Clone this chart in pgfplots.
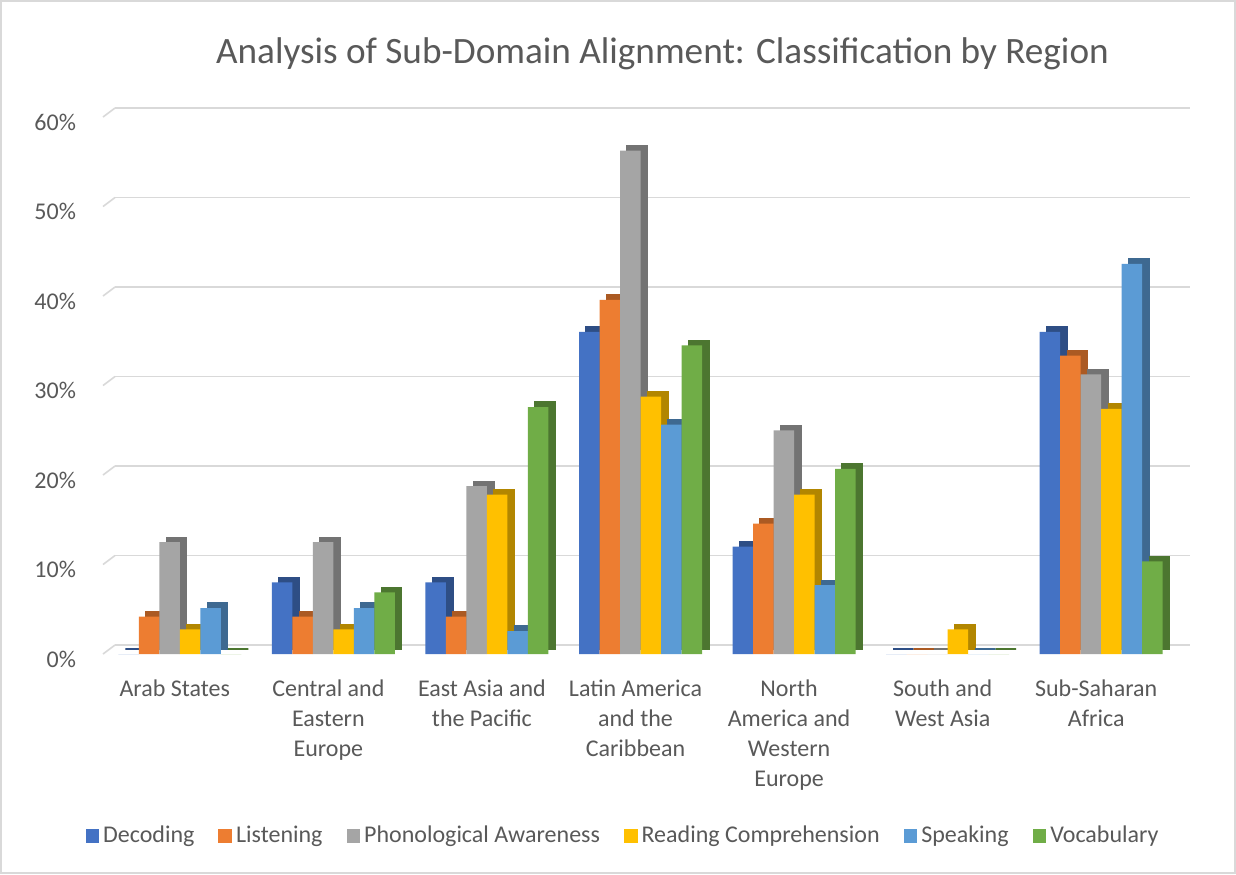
\documentclass[border=0pt]{standalone}
\usepackage{fontspec}
\setmainfont{Carlito}
\usepackage{pgfplots}
\usepackage{pgfplotstable}
\pgfplotsset{compat=1.18}
\definecolor{cDec}{HTML}{4472C4}
\definecolor{cLis}{HTML}{ED7D31}
\definecolor{cPho}{HTML}{A5A5A5}
\definecolor{cRea}{HTML}{FFC000}
\definecolor{cSpk}{HTML}{5B9BD5}
\definecolor{cVoc}{HTML}{70AD47}
\colorlet{cDecD}{cDec!68!black}
\colorlet{cLisD}{cLis!72!black}
\colorlet{cPhoD}{cPho!70!black}
\colorlet{cReaD}{cRea!70!black}
\colorlet{cSpkD}{cSpk!68!black}
\colorlet{cVocD}{cVoc!68!black}
\definecolor{txt}{HTML}{595959}
\definecolor{gridc}{HTML}{D9D9D9}

\pgfplotstableread{
x dec lis pho rea spk voc
0 0     4.17  12.50 2.74  5.13  0
1 8     4.17  12.50 2.74  5.13  6.90
2 8     4.17  18.75 17.81 2.56  27.59
3 36    39.58 56.25 28.77 25.64 34.48
4 12    14.58 25.00 17.81 7.69  20.69
5 0     0     0     2.74  0     0
6 36    33.33 31.25 27.40 43.59 10.34
}\data

\begin{document}
\begin{tikzpicture}[x=1pt,y=1pt]
\useasboundingbox (0,0) rectangle (618,437);
\fill[white] (0,0) rectangle (618,437);
\draw[gridc, line width=0.6pt] (0.5,0.5) rectangle (617.5,436.5);
\node[anchor=base, font=\fontsize{18.6}{22}\selectfont, text=txt, inner sep=0pt] at (331.25,405.3) {Analysis of Sub-Domain Alignment: Classification by Region};
\begin{axis}[
  at={(51.5pt,110pt)}, anchor=south west,
  scale only axis, width=537.5pt, height=268.5pt,
  xmin=-0.5, xmax=6.5, ymin=0, ymax=60,
  ybar, bar width=10.25pt,
  clip=false,
  axis line style={draw=none},
  major tick length=0pt,
  ymajorgrids,
  grid style={draw=gridc, line width=0.8pt, xshift=6pt, yshift=4.5pt},
  ytick={0,10,...,60},
  yticklabel={\pgfmathprintnumber[assume math mode=true]{\tick}\%},
  yticklabel style={font=\fontsize{12}{14}\selectfont, text=txt, xshift=-10pt, yshift=-2.5pt},
  xtick={0,...,6},
  xticklabels={Arab States, {Central and\\Eastern\\Europe}, {East Asia and\\the Pacific}, {Latin America\\and the\\Caribbean}, {North\\America and\\Western\\Europe}, {South and\\West Asia}, {Sub-Saharan\\Africa}},
  xticklabel style={align=center, font=\fontsize{12}{15}\selectfont, text=txt, yshift=-9.5pt, xshift=-2.5pt},
  legend columns=6,
  legend style={at={(0.4847,-0.3389)}, anchor=center, draw=none, fill=none,
    font=\fontsize{12}{14}\selectfont, text=txt,
    /tikz/every even column/.append style={column sep=10pt}},
  legend image code/.code={\fill[#1] (-1pt,-3.4pt) rectangle (5.8pt,3.4pt);},
]
\pgfplotsinvokeforeach{0,10,20,30,40,50,60}{
  \draw[gridc, line width=0.8pt] (axis cs:-0.5,#1) -- ++(6pt,4.5pt);
}
% depth faces (side and top)
\addplot[fill=cDecD, draw=cDecD, line width=0.6pt, bar shift=-22.125pt, yshift=2.5pt, forget plot] table[x=x,y=dec]{\data};
\addplot[fill=cLisD, draw=cLisD, line width=0.6pt, bar shift=-11.875pt, yshift=2.5pt, forget plot] table[x=x,y=lis]{\data};
\addplot[fill=cPhoD, draw=cPhoD, line width=0.6pt, bar shift=-1.625pt, yshift=2.5pt, forget plot] table[x=x,y=pho]{\data};
\addplot[fill=cReaD, draw=cReaD, line width=0.6pt, bar shift=8.625pt, yshift=2.5pt, forget plot] table[x=x,y=rea]{\data};
\addplot[fill=cSpkD, draw=cSpkD, line width=0.6pt, bar shift=18.875pt, yshift=2.5pt, forget plot] table[x=x,y=spk]{\data};
\addplot[fill=cVocD, draw=cVocD, line width=0.6pt, bar shift=29.125pt, yshift=2.5pt, forget plot] table[x=x,y=voc]{\data};
% front faces
\addplot[fill=cDec, draw=none, bar shift=-25.625pt] table[x=x,y=dec]{\data};
\addplot[fill=cLis, draw=none, bar shift=-15.375pt] table[x=x,y=lis]{\data};
\addplot[fill=cPho, draw=none, bar shift=-5.125pt] table[x=x,y=pho]{\data};
\addplot[fill=cRea, draw=none, bar shift=5.125pt] table[x=x,y=rea]{\data};
\addplot[fill=cSpk, draw=none, bar shift=15.375pt] table[x=x,y=spk]{\data};
\addplot[fill=cVoc, draw=none, bar shift=25.625pt] table[x=x,y=voc]{\data};
\legend{Decoding, Listening, Phonological Awareness, Reading Comprehension, Speaking, Vocabulary}
\end{axis}
\end{tikzpicture}
\end{document}
